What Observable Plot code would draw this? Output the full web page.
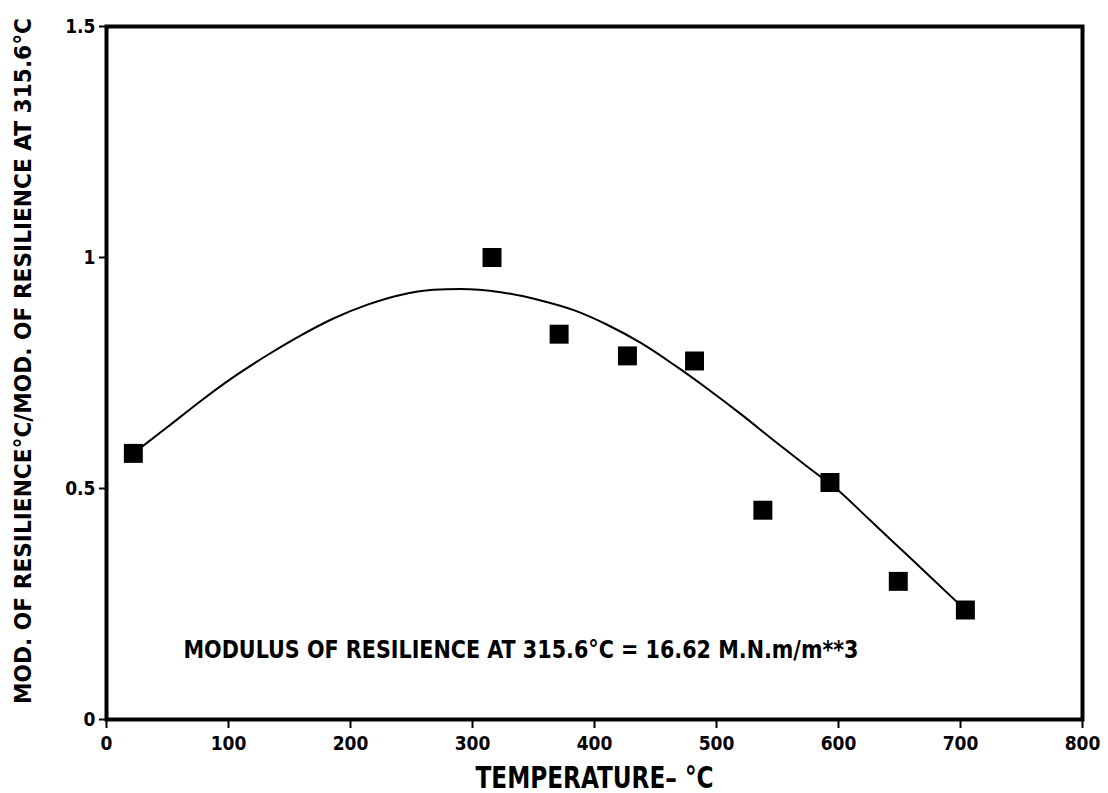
<!DOCTYPE html>
<html>
<head>
<meta charset="utf-8">
<script src="https://cdn.jsdelivr.net/npm/d3@7"></script>
<script src="https://cdn.jsdelivr.net/npm/@observablehq/plot@0.6"></script>
<style>
  html, body { margin: 0; padding: 0; background: #fff; }
  #chart { width: 1108px; height: 793px; }
</style>
</head>
<body>
<div id="chart"></div>
<script>
// Measured points (temperature °C, normalized modulus of resilience)
const pointTemps = [22, 316, 371, 427, 482, 538, 593, 649, 704];
const pointValues = [0.576, 1.0, 0.834, 0.787, 0.776, 0.453, 0.513, 0.299, 0.237];

// Fitted curve
const curveTemps = [22, 50, 77, 104, 132, 159, 186, 214, 241, 268, 290, 323, 356, 383, 410, 438, 465, 492, 520, 547, 574, 602, 624, 651, 678, 704];
const curveValues = [0.576, 0.633, 0.689, 0.741, 0.789, 0.831, 0.868, 0.898, 0.919, 0.930, 0.932, 0.925, 0.907, 0.886, 0.855, 0.815, 0.768, 0.717, 0.661, 0.604, 0.548, 0.491, 0.436, 0.369, 0.302, 0.237];

// Ticks
const xTicks = [0, 100, 200, 300, 400, 500, 600, 700, 800];
const yTicks = [0, 0.5, 1, 1.5];
const yTickLabels = ["0", "0.5", "1", "1.5"];

// Texts
const xTitle = "TEMPERATURE\u2013 \u00B0C";
const yTitle = "MOD. OF RESILIENCE\u00B0C/MOD. OF RESILIENCE AT 315.6\u00B0C";
const annotation = "MODULUS OF RESILIENCE AT 315.6\u00B0C = 16.62 M.N.m/m**3";

const points = pointTemps.map((t, i) => ({t, v: pointValues[i]}));
const curve = curveTemps.map((t, i) => ({t, v: curveValues[i]}));

const font = "'DejaVu Sans Condensed', 'Liberation Sans Narrow', 'DejaVu Sans', sans-serif";

const chart = Plot.plot({
  width: 1108,
  height: 793,
  marginLeft: 106,
  marginRight: 26,
  marginTop: 26,
  marginBottom: 74,
  style: {fontFamily: font, fontWeight: "bold", fontSize: "19px", color: "black", background: "white"},
  x: {domain: [0, 800]},
  y: {domain: [0, 1.5]},
  marks: [
    Plot.axisX({ticks: xTicks, tickSize: 9, tickPadding: 8, strokeWidth: 2, label: null, fontSize: 19, fontWeight: "bold"}),
    Plot.axisY({ticks: yTicks, tickFormat: d => yTickLabels[yTicks.indexOf(d)], tickSize: 7, tickPadding: 4, strokeWidth: 2, label: null, fontSize: 19, fontWeight: "bold"}),
    Plot.frame({stroke: "black", strokeWidth: 4}),
    Plot.line(curve, {x: "t", y: "v", curve: "monotone-x", stroke: "black", strokeWidth: 2}),
    Plot.dot(points, {x: "t", y: "v", symbol: "square", r: 10.7, fill: "black", stroke: "none"}),
    Plot.text([annotation], {text: d => d, frameAnchor: "bottom-left", textAnchor: "start", lineAnchor: "bottom", dx: 77, dy: -62, fontSize: 25, fontWeight: "bold", fill: "black"}),
    Plot.text([xTitle], {text: d => d, frameAnchor: "bottom", textAnchor: "middle", lineAnchor: "bottom", dy: 68, fontSize: 31, fontWeight: "bold", fill: "black"}),
    Plot.text([yTitle], {text: d => d, frameAnchor: "left", textAnchor: "middle", lineAnchor: "bottom", rotate: -90, dx: -76, dy: -12, fontSize: 23, fontWeight: "bold", fill: "black"})
  ]
});

document.getElementById("chart").appendChild(chart);

// Fit the condensed lettering widths
const fits = new Map([[annotation, 675], [xTitle, 238], [yTitle, 686]]);
d3.select(chart).selectAll("text").each(function() {
  const w = fits.get(this.textContent);
  if (w) {
    d3.select(this).attr("textLength", w).attr("lengthAdjust", "spacingAndGlyphs");
  }
});
</script>
</body>
</html>
